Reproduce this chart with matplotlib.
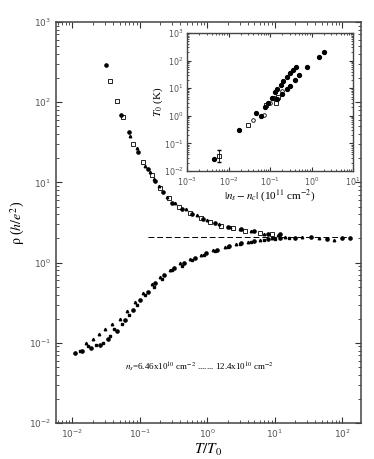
import numpy as np
import matplotlib.pyplot as plt

# main panel: rho vs T/T0, insulating (upper) and metallic (lower) branches
up_a_x = [0.031, 0.053, 0.068, 0.095, 0.13, 0.17, 0.22, 0.3, 0.42, 0.6, 0.85, 1.3, 2.0, 3.2, 5.0, 8.0, 12]
up_a_y = [290, 70, 43, 24, 14.5, 10.5, 7.5, 5.6, 4.7, 4.0, 3.5, 3.1, 2.8, 2.6, 2.45, 2.3, 2.25]
up_b_x = [0.036, 0.045, 0.057, 0.08, 0.11, 0.15, 0.2, 0.27, 0.38, 0.55, 0.8, 1.1, 1.6, 2.4, 3.6, 6.0, 9.0]
up_b_y = [183, 105, 65, 30, 18, 12.5, 8.4, 6.4, 5.0, 4.2, 3.6, 3.2, 2.9, 2.7, 2.5, 2.35, 2.25]
up_c_x = [0.072, 0.09, 0.12, 0.14, 0.16, 0.19, 0.25, 0.33, 0.48, 0.7, 1.0, 1.5, 2.2, 3.0, 4.5, 7.0, 11]
up_c_y = [38, 27, 16, 13.5, 11, 9.0, 6.6, 5.5, 4.6, 3.9, 3.4, 3.0, 2.8, 2.65, 2.5, 2.3, 2.2]

lo_d_x = [0.011, 0.014, 0.019, 0.026, 0.034, 0.045, 0.06, 0.08, 0.1, 0.13, 0.17, 0.23, 0.32, 0.45,
          0.65, 0.95, 1.4, 2.1, 3.2, 5, 8, 12, 20, 35, 60, 100, 130]
lo_d_y = [0.075, 0.078, 0.085, 0.095, 0.11, 0.14, 0.19, 0.26, 0.34, 0.43, 0.56, 0.7, 0.85, 1.0,
          1.15, 1.3, 1.45, 1.6, 1.75, 1.85, 1.95, 2.0, 2.05, 2.1, 1.95, 2.05, 2.0]
lo_e_x = [0.016, 0.02, 0.025, 0.03, 0.038, 0.05, 0.065, 0.085, 0.11, 0.15, 0.2, 0.28, 0.4, 0.55,
          0.8, 1.2, 1.8, 2.7, 4, 6, 9, 14, 25, 45, 75]
lo_e_y = [0.1, 0.11, 0.13, 0.15, 0.17, 0.2, 0.25, 0.32, 0.42, 0.54, 0.67, 0.82, 0.98, 1.1,
          1.25, 1.42, 1.58, 1.72, 1.82, 1.92, 2.05, 2.1, 2.1, 2.0, 1.9]
lo_f_x = [0.013, 0.017, 0.022, 0.028, 0.036, 0.042, 0.055, 0.07, 0.09, 0.12, 0.16, 0.21, 0.3, 0.42,
          0.6, 0.9, 1.3, 2, 3, 4.5, 7, 10, 16]
lo_f_y = [0.08, 0.09, 0.095, 0.1, 0.12, 0.15, 0.17, 0.22, 0.3, 0.4, 0.5, 0.63, 0.8, 0.92,
          1.08, 1.25, 1.4, 1.55, 1.7, 1.8, 1.9, 1.95, 2.05]

rho_c = 2.1
sep_x = [0.13, 120]

# inset: T0 vs |ns - nc|
in_a_x = [0.0045, 0.018, 0.045, 0.06, 0.075, 0.09, 0.11, 0.13, 0.15, 0.18, 0.21, 0.25, 0.3, 0.35, 0.42]
in_a_y = [0.028, 0.3, 1.3, 1.0, 2.0, 3.0, 4.5, 7, 9, 13, 18, 25, 35, 45, 60]
in_b_x = [0.15, 0.2, 0.25, 0.3, 0.4, 0.5, 0.8, 1.5, 2.0]
in_b_y = [4, 6, 9, 12, 20, 30, 60, 140, 210]
in_sq_x = [0.006, 0.03, 0.08, 0.12, 0.14, 0.16]
in_sq_y = [0.035, 0.45, 2.5, 4.5, 3, 5]
in_oc_x = [0.04, 0.07, 0.1, 0.2]
in_oc_y = [0.7, 1.1, 3, 8]

serif = ['Liberation Serif', 'DejaVu Serif']
tick_grey = '#555555'

fig = plt.figure(figsize=(3.74, 4.59), dpi=100)
ax = fig.add_axes([56 / 374, 1 - 423 / 459, 305 / 374, 401 / 459])

ms = 2.3
ax.plot(up_a_x, up_a_y, 'o', color='k', ms=ms, ls='none')
ax.plot(up_b_x, up_b_y, 's', mfc='none', mec='k', mew=0.6, ms=ms, ls='none')
ax.plot(up_c_x, up_c_y, '^', color='k', ms=ms - 0.5, ls='none')
ax.plot(lo_d_x, lo_d_y, 'o', color='k', ms=ms, ls='none')
ax.plot(lo_e_x, lo_e_y, '^', color='k', ms=ms - 0.5, ls='none')
ax.plot(lo_f_x, lo_f_y, 's', color='k', ms=ms - 0.6, ls='none')
ax.plot(sep_x, [rho_c, rho_c], '--', color='k', lw=0.7, dashes=(6, 3))

ax.set_xscale('log')
ax.set_yscale('log')
ax.set_xlim(5.7e-3, 190)
ax.set_ylim(1e-2, 1e3)
ax.tick_params(which='both', direction='in', top=True, right=True, labelsize=6.5,
               colors='#333333', labelcolor=tick_grey)
ax.tick_params(which='major', length=4)
ax.tick_params(which='minor', length=2)
for s in ax.spines.values():
    s.set_linewidth(1.1)
    s.set_color('#444444')
ax.set_xlabel(r'$T/T_0$', family=serif, fontsize=11, labelpad=1, math_fontfamily='stix')
ax.set_ylabel(r'$\mathrm{\rho}$ ($h/e^2$)', family=serif, fontsize=10, labelpad=1, math_fontfamily='stix')
ax.text(0.47, 0.14, r'$n_s$=6.46x10$^{10}$ cm$^{-2}$ ....... 12.4x10$^{10}$ cm$^{-2}$',
        transform=ax.transAxes, ha='center', va='center', fontsize=6.5, family=serif,
        math_fontfamily='stix')

ins = fig.add_axes([187 / 374, 1 - 171 / 459, 166 / 374, 138 / 459])
ins.plot(in_a_x, in_a_y, 'o', color='k', ms=2.8, ls='none')
ins.plot(in_b_x, in_b_y, 'o', color='k', ms=2.8, ls='none')
ins.plot(in_sq_x, in_sq_y, 's', mfc='none', mec='k', mew=0.6, ms=2.6, ls='none')
ins.plot(in_oc_x, in_oc_y, 'o', mfc='none', mec='k', mew=0.6, ms=2.6, ls='none')
ins.errorbar([0.006], [0.035], yerr=[[0.013], [0.025]], fmt='none', ecolor='k', elinewidth=0.6, capsize=1.5)
ins.set_xscale('log')
ins.set_yscale('log')
ins.set_xlim(1e-3, 10)
ins.set_ylim(1e-2, 1e3)
ins.tick_params(which='both', direction='in', top=True, right=True, labelsize=5.8,
                colors='#333333', labelcolor=tick_grey)
ins.tick_params(axis='x', pad=3)
ins.tick_params(axis='y', pad=2.5)
ins.tick_params(which='major', length=3)
ins.tick_params(which='minor', length=1.5)
for s in ins.spines.values():
    s.set_linewidth(1.0)
    s.set_color('#444444')
ins.set_xlabel(r'$|n_s - n_c|$ (10$^{11}$ cm$^{-2}$)', family=serif, fontsize=8, labelpad=0,
               math_fontfamily='stix')
ins.set_ylabel(r'$T_0$ (K)', family=serif, fontsize=8, labelpad=-1, math_fontfamily='stix')

fig.savefig('out.png', dpi=100)
